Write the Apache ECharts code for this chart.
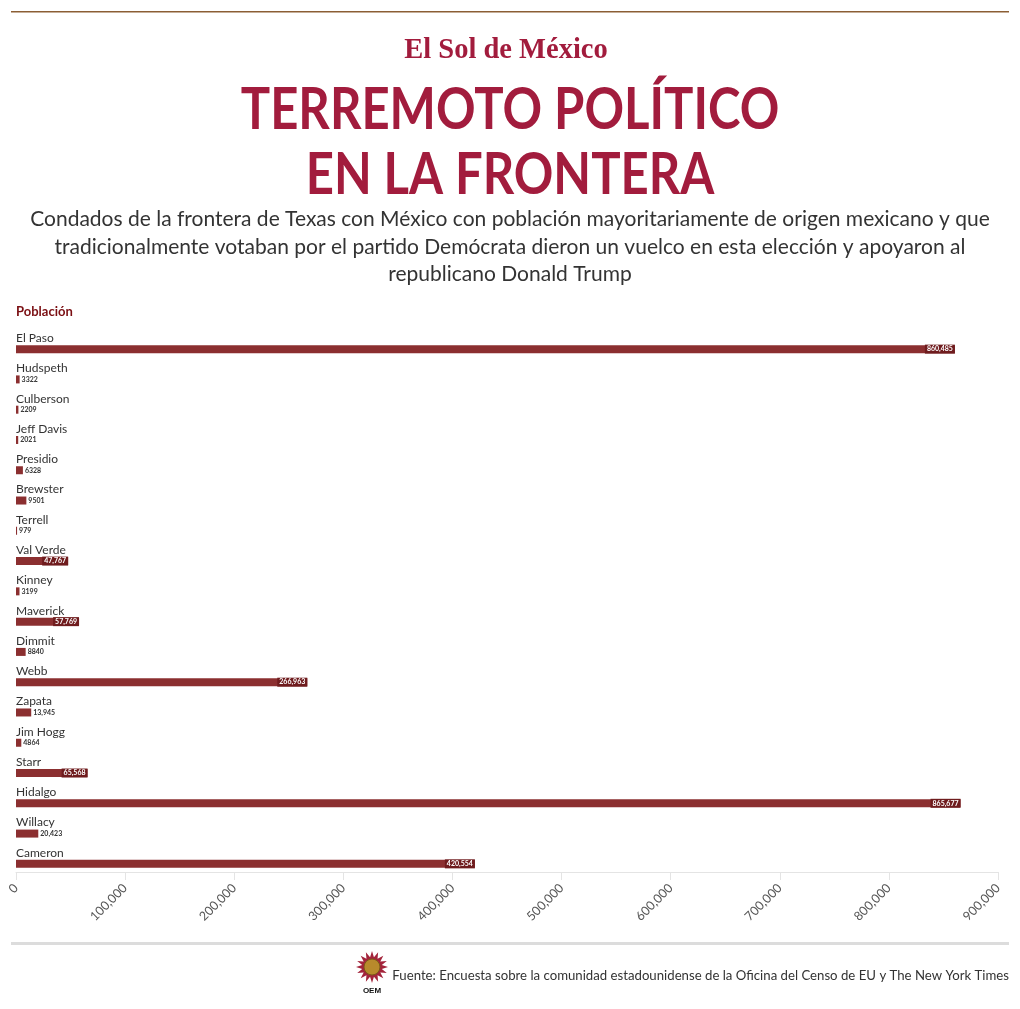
<!DOCTYPE html>
<html>
<head>
<meta charset="utf-8">
<script src="https://cdn.jsdelivr.net/npm/echarts@6/dist/echarts.min.js"></script>
<style>html,body{margin:0;padding:0;background:#fff}#c{width:1020px;height:1009px}</style>
</head>
<body>
<div id="c"></div>
<script>
const categories = ["El Paso","Hudspeth","Culberson","Jeff Davis","Presidio","Brewster","Terrell","Val Verde","Kinney","Maverick","Dimmit","Webb","Zapata","Jim Hogg","Starr","Hidalgo","Willacy","Cameron"];
const population = [860485,3322,2209,2021,6328,9501,979,47767,3199,57769,8840,266963,13945,4864,65568,865677,20423,420554];
const axisMin = 0, axisMax = 900000, axisStep = 100000;

const titleLine1 = "TERREMOTO POLÍTICO";
const titleLine2 = "EN LA FRONTERA";
const subtitle = "Condados de la frontera de Texas con México con población mayoritariamente de origen mexicano y que\ntradicionalmente votaban por el partido Demócrata dieron un vuelco en esta elección y apoyaron al\nrepublicano Donald Trump";
const source = "Fuente: Encuesta sobre la comunidad estadounidense de la Oficina del Censo de EU y The New York Times";

const FONT = 'Lato, "Noto Sans", sans-serif';
const fmt = v => v >= 10000 ? v.toLocaleString('en-US') : String(v);

const insideLabel = {show:true, position:'insideRight', distance:0, color:'#fff', fontWeight:'bold', fontSize:7, fontFamily:FONT, backgroundColor:'#6f1c1e', padding:[1,2,1,2], formatter: p => fmt(p.value)};
const outsideLabel = {show:true, position:'right', distance:2, color:'#333', fontWeight:'bold', fontSize:7, fontFamily:FONT, formatter: p => fmt(p.value)};

const chart = echarts.init(document.getElementById('c'), null, {renderer:'canvas'});

// OEM logo star polygon (decoration)
const star = [];
for (let i = 0; i < 32; i++) {
  const r = i % 2 === 0 ? 16 : 10;
  const a = i * Math.PI / 16;
  star.push([372 + r * Math.cos(a), 967 + r * Math.sin(a)]);
}

chart.setOption({
  backgroundColor:'#fff',
  animation:false,
  grid:{left:16, right:22, top:334, height:545, containLabel:false},
  xAxis:{
    type:'value', min:axisMin, max:axisMax, interval:axisStep, offset:-7,
    axisLine:{show:true, lineStyle:{color:'#e4e4e4'}},
    axisTick:{show:true, length:8, lineStyle:{color:'#e4e4e4'}},
    splitLine:{show:false},
    axisLabel:{rotate:45, margin:14, color:'#555', fontSize:12.5, fontFamily:FONT, formatter: v => v.toLocaleString('en-US')}
  },
  yAxis:{
    type:'category', data:categories, inverse:true,
    axisLine:{show:false}, axisTick:{show:false},
    axisLabel:{inside:true, margin:0, align:'left', verticalAlign:'bottom', padding:[0,0,5,0], color:'#333', fontSize:12, fontFamily:FONT}
  },
  series:[{
    type:'bar', barWidth:8,
    itemStyle:{color:'#8b2f30'},
    data: population.map(v => ({value:v, label: v > 30000 ? insideLabel : outsideLabel}))
  }],
  graphic:[
    {type:'rect', shape:{x:11, y:11, width:998, height:1.5}, style:{fill:'#8b5e34'}},
    {type:'text', x:506, y:50, scaleX:0.95, style:{text:'El Sol de México', fill:'#a21c3d', font:'bold 30px "Liberation Serif", serif', textAlign:'center', textVerticalAlign:'middle'}},
    {type:'text', x:510, y:111, scaleX:0.86, style:{text:titleLine1, fill:'#a21c3d', font:'bold 57px ' + FONT, textAlign:'center', textVerticalAlign:'middle'}},
    {type:'text', x:510, y:176, scaleX:0.86, style:{text:titleLine2, fill:'#a21c3d', font:'bold 57px ' + FONT, textAlign:'center', textVerticalAlign:'middle'}},
    {type:'text', x:510, y:247, style:{text:subtitle, fill:'#333', font:'21px ' + FONT, textAlign:'center', textVerticalAlign:'middle', lineHeight:27.5}},
    {type:'text', x:16, y:312, style:{text:'Población', fill:'#7a0e12', font:'bold 13px ' + FONT, textAlign:'left', textVerticalAlign:'middle'}},
    {type:'rect', shape:{x:11, y:942, width:998, height:3}, style:{fill:'#dcdcdc'}},
    {type:'polygon', shape:{points:star}, style:{fill:'#a3243b'}},
    {type:'circle', shape:{cx:372, cy:967, r:8}, style:{fill:'#b88a2c', stroke:'#7a5a1a', lineWidth:1}},
    {type:'text', x:372, y:991, style:{text:'OEM', fill:'#111', font:'bold 8px "Liberation Sans", sans-serif', textAlign:'center', textVerticalAlign:'middle'}},
    {type:'text', x:1009, y:976, style:{text:source, fill:'#333', font:'13.2px ' + FONT, textAlign:'right', textVerticalAlign:'middle'}}
  ]
});
</script>
</body>
</html>
